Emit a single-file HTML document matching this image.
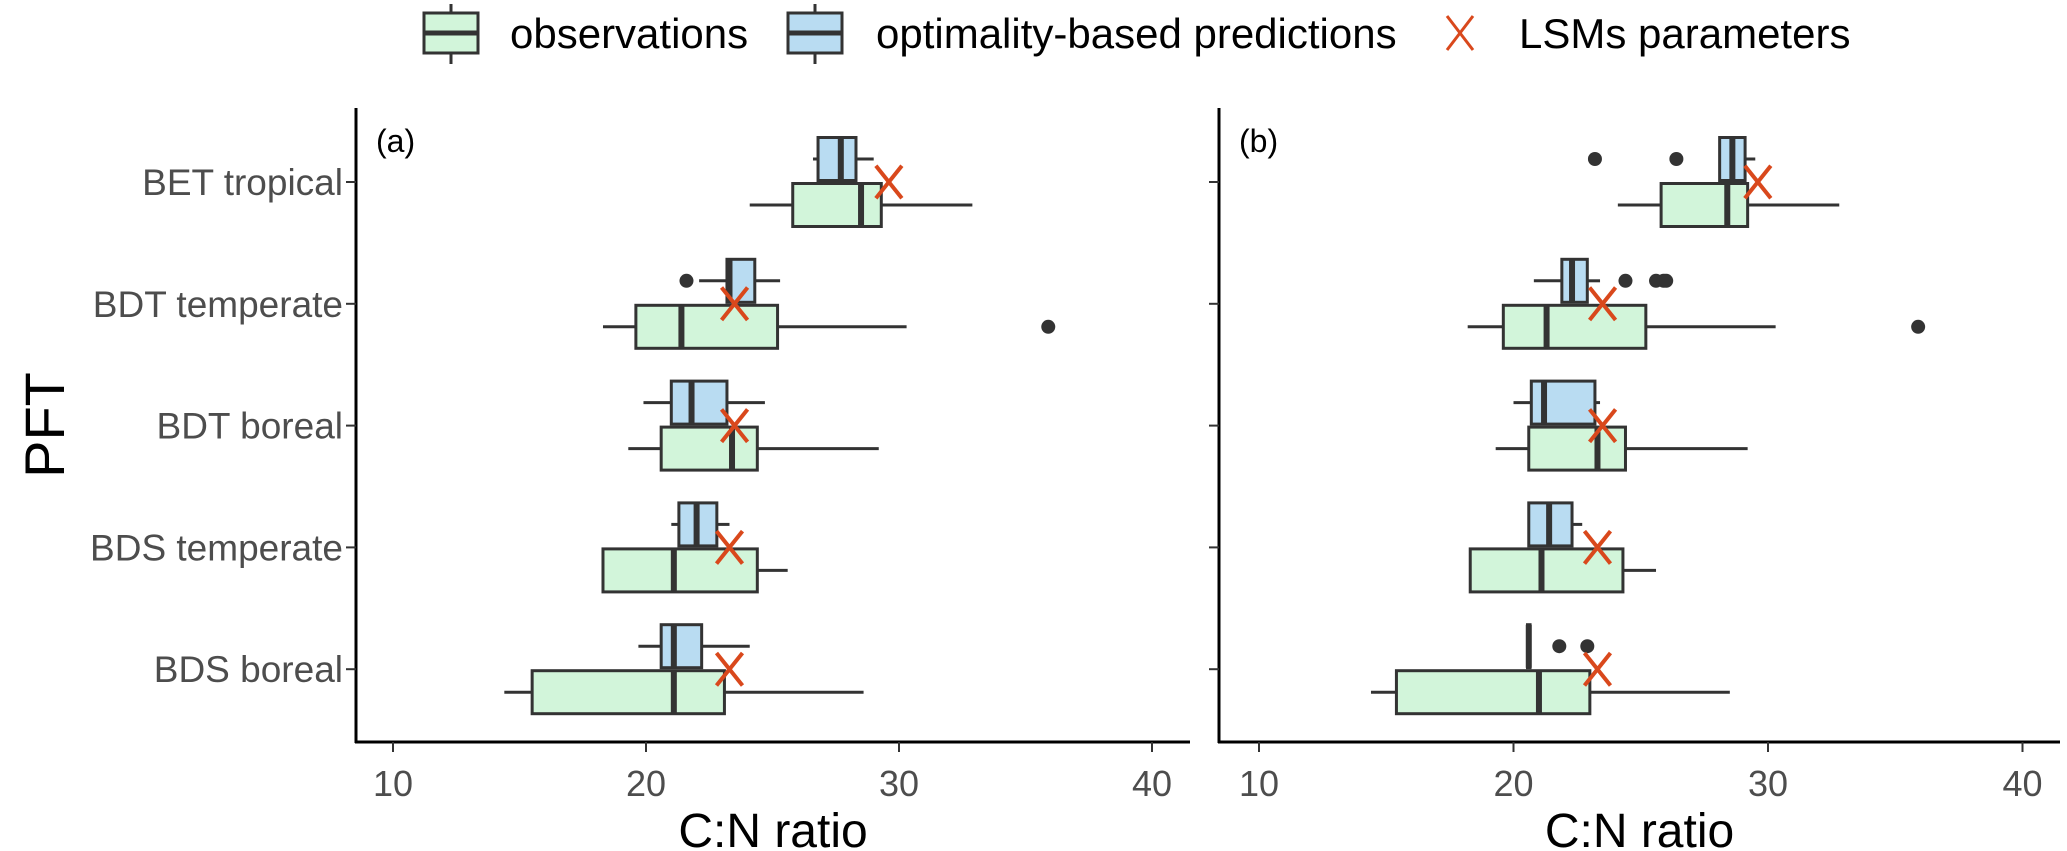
<!DOCTYPE html>
<html><head><meta charset="utf-8"><style>
body{margin:0;background:#fff;}
svg{display:block;font-family:"Liberation Sans",Arial,sans-serif;}
</style></head><body>
<svg id="chart" width="2067" height="851" viewBox="0 0 2067 851" xmlns="http://www.w3.org/2000/svg">
<rect width="2067" height="851" fill="#fff"/>
<g>
  <g>
    <line x1="451" y1="4" x2="451" y2="64" stroke="#333" stroke-width="3"/>
    <rect x="424" y="13" width="54" height="40" fill="#d2f5da" stroke="#333" stroke-width="3"/>
    <line x1="424" y1="33" x2="478" y2="33" stroke="#333" stroke-width="5"/>
    <text x="510" y="48" font-size="42" fill="#000">observations</text>
  </g>
  <g>
    <line x1="815" y1="4" x2="815" y2="64" stroke="#333" stroke-width="3"/>
    <rect x="788" y="13" width="54" height="40" fill="#b9dcf2" stroke="#333" stroke-width="3"/>
    <line x1="788" y1="33" x2="842" y2="33" stroke="#333" stroke-width="5"/>
    <text x="876" y="48" font-size="42" fill="#000">optimality-based predictions</text>
  </g>
  <g>
    <line x1="1447" y1="16" x2="1473" y2="50" stroke="#d9481c" stroke-width="3"/>
    <line x1="1473" y1="16" x2="1447" y2="50" stroke="#d9481c" stroke-width="3"/>
    <text x="1519" y="48" font-size="42" fill="#000">LSMs parameters</text>
  </g>
</g>
<text transform="translate(64,425) rotate(-90)" text-anchor="middle" font-size="56" fill="#000">PFT</text>
<g id="plots"></g>
</svg>
<script>
const categories = ["BET tropical","BDT temperate","BDT boreal","BDS temperate","BDS boreal"];
const xTicks = [10,20,30,40];
// [lowWhisker, q1, median, q3, highWhisker]
const obsA = [[24.1,25.8,28.5,29.3,32.9],[18.3,19.6,21.4,25.2,30.3],[19.3,20.6,23.4,24.4,29.2],[18.3,18.3,21.1,24.4,25.6],[14.4,15.5,21.1,23.1,28.6]];
const obsOutA = [[],[35.9],[],[],[]];
const predA = [[26.6,26.8,27.7,28.3,29.0],[22.1,23.2,23.3,24.3,25.3],[19.9,21.0,21.8,23.2,24.7],[21.0,21.3,22.0,22.8,23.3],[19.7,20.6,21.1,22.2,24.1]];
const predOutA = [[],[21.6],[],[],[]];
const lsmA = [29.6,23.5,23.5,23.3,23.3];
const obsB = [[24.1,25.8,28.4,29.2,32.8],[18.2,19.6,21.3,25.2,30.3],[19.3,20.6,23.3,24.4,29.2],[18.3,18.3,21.1,24.3,25.6],[14.4,15.4,21.0,23.0,28.5]];
const obsOutB = [[],[35.9],[],[],[]];
const predB = [[28.1,28.1,28.6,29.1,29.5],[20.8,21.9,22.3,22.9,23.4],[20.0,20.7,21.2,23.2,23.4],[20.6,20.6,21.4,22.3,22.7],[20.55,20.55,20.6,20.65,20.65]];
const predOutB = [[23.2,26.4],[24.4,25.6,25.9,26.0],[],[],[21.8,22.9]];
const lsmB = [29.6,23.5,23.5,23.3,23.3];

const NS="http://www.w3.org/2000/svg";
const root=document.getElementById('plots');
function mk(tag,attrs,parent){const e=document.createElementNS(NS,tag);for(const k in attrs)e.setAttribute(k,attrs[k]);parent.appendChild(e);return e;}
const rowY=i=>182+i*121.8;
const panels=[
 {id:'a',axisX:356,x0:393,s:25.3,right:1190,obs:obsA,obsOut:obsOutA,pred:predA,predOut:predOutA,lsm:lsmA,labels:true},
 {id:'b',axisX:1219,x0:1259,s:25.45,right:2060,obs:obsB,obsOut:obsOutB,pred:predB,predOut:predOutB,lsm:lsmB,labels:false}
];
function drawBox(g,st,outs,xs,cy,fill,name){
  const bg=mk('g',{},g);
  
  
  const h=43;
  mk('line',{x1:xs(st[0]),x2:xs(st[1]),y1:cy,y2:cy,stroke:'#333','stroke-width':3},bg);
  mk('line',{x1:xs(st[3]),x2:xs(st[4]),y1:cy,y2:cy,stroke:'#333','stroke-width':3},bg);
  mk('rect',{x:xs(st[1]),y:cy-h/2,width:Math.max(1,xs(st[3])-xs(st[1])),height:h,fill:fill,stroke:'#333','stroke-width':3},bg);
  mk('line',{x1:xs(st[2]),x2:xs(st[2]),y1:cy-h/2,y2:cy+h/2,stroke:'#333','stroke-width':6},bg);
  outs.forEach(v=>{const c=mk('circle',{cx:xs(v),cy:cy,r:7,fill:'#333'},bg);
    
    });
}
panels.forEach(p=>{
  const g=mk('g',{},root);
  
  
  const xs=v=>p.x0+(v-10)*p.s;
  const ax=mk('g',{},g);
  
  
  mk('line',{x1:p.axisX,x2:p.axisX,y1:108,y2:743,stroke:'#000','stroke-width':3},ax);
  mk('line',{x1:p.axisX-1,x2:p.right,y1:742,y2:742,stroke:'#000','stroke-width':3},ax);
  xTicks.forEach(t=>{
    mk('line',{x1:xs(t),x2:xs(t),y1:742,y2:752,stroke:'#333','stroke-width':2},ax);
    const tx=mk('text',{x:xs(t),y:796,'text-anchor':'middle','font-size':36,fill:'#4d4d4d'},ax);
    tx.textContent=t;
    
    
  });
  const xt=mk('text',{x:(p.axisX+p.right)/2,y:847,'text-anchor':'middle','font-size':48,fill:'#000'},ax);
  xt.textContent='C:N ratio';
  
  
  const pl=mk('text',{x:p.axisX+20,y:152,'font-size':32,fill:'#000'},g);
  pl.textContent='('+p.id+')';
  
  
  categories.forEach((c,i)=>{
    const y=rowY(i);
    mk('line',{x1:p.axisX-10,x2:p.axisX,y1:y,y2:y,stroke:'#333','stroke-width':2},ax);
    if(p.labels){
      const t=mk('text',{x:p.axisX-13,y:y+13,'text-anchor':'end','font-size':37,fill:'#4d4d4d'},ax);
      t.textContent=c;
      
      
    }
    drawBox(g,p.pred[i],p.predOut[i],xs,y-23,'#b9dcf2','prediction-box');
    drawBox(g,p.obs[i],p.obsOut[i],xs,y+23,'#d2f5da','observation-box');
    const cx=xs(p.lsm[i]), cy=y, r=13;
    const m=mk('g',{},g);
    
    
    mk('line',{x1:cx-r,y1:cy-r*1.25,x2:cx+r,y2:cy+r*1.25,stroke:'#d9481c','stroke-width':4},m);
    mk('line',{x1:cx+r,y1:cy-r*1.25,x2:cx-r,y2:cy+r*1.25,stroke:'#d9481c','stroke-width':4},m);
  });
});
</script>
</body></html>
